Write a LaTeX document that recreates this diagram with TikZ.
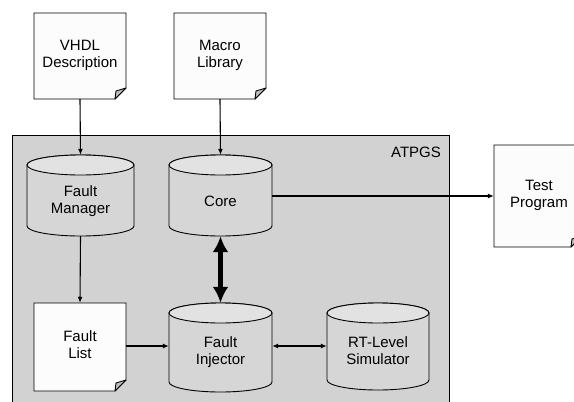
\documentclass[tikz,border=0pt]{standalone}
\usepackage{fontspec}
\setmainfont{Liberation Sans}
\usetikzlibrary{arrows.meta}
\definecolor{boxgray}{RGB}{210,210,210}
\definecolor{cylbody}{RGB}{214,214,214}
\definecolor{cyltop}{RGB}{226,226,226}
\definecolor{foldgray}{RGB}{190,190,190}
\definecolor{docwhite}{RGB}{252,252,252}
\tikzset{
  lbl/.style={align=center,font=\fontsize{15}{17}\selectfont,inner sep=0pt},
  conn/.style={line width=1.1pt,-{Latex[length=6pt,width=5pt]}},
  biconn/.style={line width=1.1pt,{Latex[length=6pt,width=5pt]}-{Latex[length=6pt,width=5pt]}},
  thickconn/.style={line width=5pt,{Latex[length=16pt,width=16pt]}-{Latex[length=16pt,width=16pt]}},
  outline/.style={draw=black,line width=0.9pt},
}
% document: name, left, top, right, bottom
\newcommand\mydoc[5]{%
  \path[outline,fill=docwhite] (#2,#3) -- (#4,#3) -- (#4,#5-11) -- (#4-11,#5) -- (#2,#5) -- cycle;
  \path[outline,fill=foldgray,line join=round] (#4,#5-11) -- (#4-11,#5) -- (#4-10,#5-8) -- cycle;
  \node[lbl,minimum width={#4-#2},minimum height={#5-#3}] (#1) at ({(#2+#4)/2},{(#3+#5)/2}) {};
}
% cylinder: name, left, top, right, bottom
\newcommand\mycyl[5]{%
  \pgfmathsetmacro\rx{(#4-#2)/2}%
  \pgfmathsetmacro\cx{(#4+#2)/2}%
  \path[outline,fill=cylbody] (#2,#3+10) -- (#2,#5-10) arc[start angle=180,end angle=360,x radius=\rx pt,y radius=10pt] -- (#4,#3+10) arc[start angle=0,end angle=180,x radius=\rx pt,y radius=10pt] -- cycle;
  \path[outline,fill=cyltop] (\cx,#3+10) ellipse[x radius=\rx pt,y radius=10pt];
  \node[lbl,minimum width={#4-#2},minimum height={#5-#3}] (#1) at (\cx,{(#3+#5)/2}) {};
}
\begin{document}
\begin{tikzpicture}[x=1pt,y=-1pt]
\useasboundingbox (0,0) rectangle (574,402);
% ATPGS container
\path[outline,fill=boxgray] (12,135) rectangle (449,410);
\node[lbl] (atpgs) at (416,152) {ATPGS};
% documents
\mydoc{vhdl}{34}{13}{126}{99}
\node[lbl] (vhdlt) at (80,55) {VHDL\\Description};
\mydoc{macro}{174}{13}{266}{99}
\node[lbl] (macrot) at (220,55) {Macro\\Library};
\mydoc{flist}{34}{303}{126}{391}
\node[lbl] (flistt) at (80,345) {Fault\\List};
\mydoc{tprog}{494}{145}{582}{247}
\node[lbl] (tprogt) at (539,195) {Test\\Program};
% cylinders
\mycyl{fm}{27}{155}{134}{236}
\node[lbl] (fmt) at (80.5,201) {Fault\\Manager};
\mycyl{core}{169}{155}{272}{236}
\node[lbl] (coret) at (220.5,201) {Core};
\mycyl{fi}{169}{303}{272}{392}
\node[lbl] (fit) at (220.5,352) {Fault\\Injector};
\mycyl{rt}{327}{303}{429}{390}
\node[lbl] (rtt) at (378,351) {RT-Level\\Simulator};
% connectors
\draw[conn] (vhdl.south) -- (fm.north);
\draw[conn] (macro.south) -- (core.north);
\draw[conn] (core.east |- 0,196) coordinate (c1) -- (tprog.west |- c1);
\draw[conn] (fm.south) -- (flist.north);
\draw[thickconn] (core.south) -- (fi.north);
\draw[conn] (flist.east |- 0,346) coordinate (c2) -- (fi.west |- c2);
\draw[biconn] (fi.east |- 0,346) coordinate (c3) -- (rt.west |- c3);
\end{tikzpicture}
\end{document}
